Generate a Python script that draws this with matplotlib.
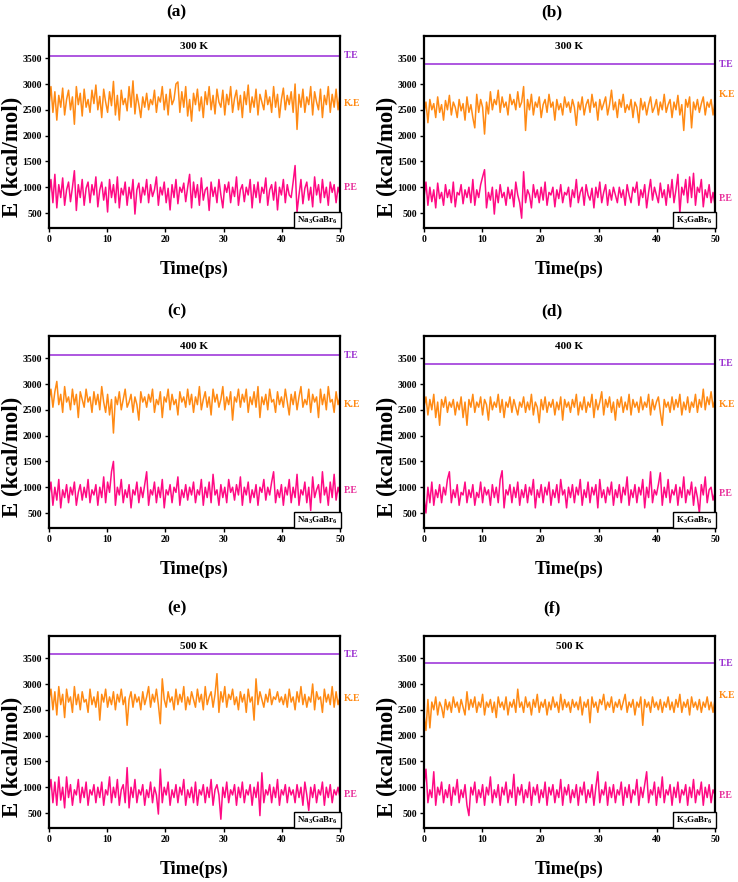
import numpy as np
import matplotlib
matplotlib.use("Agg")
import matplotlib.pyplot as plt

plt.rcParams['font.family'] = ['Liberation Serif', 'DejaVu Serif']
plt.rcParams['font.weight'] = 'bold'
plt.rcParams['mathtext.fontset'] = 'custom'
plt.rcParams['mathtext.rm'] = 'Liberation Serif:bold'
plt.rcParams['mathtext.bf'] = 'Liberation Serif:bold'

# ---------------- data ----------------
panel_letters = ['(a)', '(b)', '(c)', '(d)', '(e)', '(f)']
temperatures = ['300 K', '300 K', '400 K', '400 K', '500 K', '500 K']
compounds = [r'$\mathbf{Na_3GaBr_6}$', r'$\mathbf{K_3GaBr_6}$'] * 3
total_energy = [3550, 3385, 3560, 3390, 3575, 3400]
ke_label_y = [2630, 2800, 2600, 2600, 2720, 2780]
pe_label_y = [990, 780, 940, 880, 865, 830]

ke_a = [2600, 2950, 2450, 2850, 2300, 2780, 2550, 2920, 2400, 2700, 2880, 2500, 2750, 2220, 2950, 2600, 2820, 2380, 2900, 2550, 2700, 2450, 2880, 2620, 2980,
        2500, 2760, 2350, 2900, 2650, 2450, 2850, 2580, 3050, 2400, 2780, 2300, 2880, 2600, 2720, 2480, 2950, 2550, 3060, 2420, 2800, 2600, 2350, 2750, 2550,
        2820, 2500, 2700, 2600, 2880, 2450, 2750, 2650, 2950, 2500, 2800, 2400, 2900, 2600, 2700, 3000, 3040, 2450, 2850, 2550, 2950, 2380, 2700, 2280, 2820,
        2600, 2900, 2480, 2750, 2350, 2850, 2600, 2950, 2500, 2780, 2420, 2900, 2650, 2550, 2880, 2400, 2800, 2600, 2950, 2450, 2720, 2880, 2500, 2780, 2350,
        2850, 2600, 2980, 2450, 2750, 2550, 2900, 2400, 2800, 2650, 2500, 2880, 2600, 2750, 2450, 2950, 2550, 2800, 2350, 2700, 2920, 2500, 2780, 2600, 2850,
        2450, 3000, 2120, 2800, 2550, 2900, 2450, 2750, 2600, 2950, 2400, 2850, 2650, 2500, 2900, 2350, 2780, 2600, 2950, 2450, 2800, 2550, 2900, 2500, 2800]
pe_a = [850, 1150, 700, 1250, 600, 1050, 800, 1180, 650, 950, 1100, 720, 1000, 1320, 550, 1050, 800, 1150, 650, 980, 1100, 700, 1050, 850, 1200,
        620, 950, 1100, 750, 1000, 520, 1150, 800, 1050, 700, 1200, 600, 980, 850, 1100, 650, 1000, 780, 1150, 480, 950, 1080, 700, 1000, 850,
        1150, 700, 1050, 820, 950, 1200, 650, 1000, 850, 1100, 700, 980, 560, 1050, 800, 1150, 680, 1000, 900, 1080, 720, 1000, 1250, 600, 1100,
        800, 1050, 650, 1180, 750, 950, 1000, 550, 1100, 820, 1000, 700, 1150, 850, 600, 1050, 900, 1100, 700, 1000, 820, 1200, 650, 950, 1050,
        720, 1000, 850, 1150, 600, 1050, 800, 1100, 700, 1000, 880, 1180, 650, 950, 1050, 750, 1100, 560, 1000, 850, 1150, 700, 1050, 850, 800,
        1100, 1420, 520, 850, 1150, 680, 980, 1100, 750, 1000, 620, 1200, 850, 1050, 700, 1150, 800, 1000, 650, 1100, 900, 1050, 700, 1000, 850]

ke_b = [2450, 2650, 2250, 2700, 2500, 2620, 2350, 2750, 2450, 2600, 2300, 2680, 2500, 2780, 2400, 2650, 2550, 2350, 2700, 2480, 2620, 2300, 2750, 2450, 2600,
        2350, 2150, 2800, 2450, 2700, 2550, 2030, 2650, 2420, 2850, 2500, 2700, 2600, 2880, 2450, 2750, 2550, 2650, 2400, 2800, 2600, 2700, 2500, 2850, 2550,
        2650, 2950, 2100, 2700, 2500, 2800, 2400, 2650, 2550, 2750, 2350, 2600, 2700, 2450, 2800, 2550, 2650, 2300, 2700, 2500, 2620, 2400, 2750, 2550, 2650,
        2450, 2700, 2550, 2200, 2650, 2500, 2750, 2400, 2600, 2700, 2450, 2800, 2550, 2650, 2300, 2700, 2500, 2620, 2750, 2400, 2600, 2880, 2500, 2650, 2350,
        2700, 2550, 2800, 2450, 2600, 2500, 2700, 2350, 2650, 2550, 2250, 2720, 2500, 2650, 2400, 2600, 2750, 2450, 2550, 2700, 2400, 2650, 2500, 2800, 2450,
        2600, 2700, 2350, 2650, 2500, 2780, 2400, 2600, 2100, 2700, 2550, 2750, 2150, 2650, 2500, 2700, 2450, 2620, 2750, 2400, 2650, 2550, 2700, 2400, 2650]
pe_b = [800, 1100, 650, 1000, 720, 950, 600, 1080, 780, 900, 650, 1050, 800, 950, 700, 1100, 620, 900, 850, 1050, 680, 950, 800, 1000, 700,
        1150, 650, 950, 800, 1050, 1200, 1340, 600, 900, 750, 1000, 480, 950, 700, 1050, 800, 900, 650, 1000, 780, 950, 620, 1100, 850, 700,
        400, 1300, 700, 950, 850, 600, 1050, 800, 950, 700, 1000, 750, 1100, 650, 900, 850, 1000, 620, 950, 780, 1050, 700, 900, 850, 1000,
        620, 950, 800, 1150, 700, 900, 1000, 650, 1050, 850, 750, 980, 600, 1000, 800, 1100, 700, 900, 1050, 650, 950, 750, 1000, 850, 700,
        1000, 800, 950, 650, 1050, 850, 700, 1000, 900, 1100, 650, 950, 800, 1050, 600, 900, 1150, 750, 1000, 850, 700, 1080, 800, 950, 650,
        1050, 800, 1150, 700, 950, 1250, 500, 1000, 850, 1150, 700, 1200, 800, 1270, 650, 1000, 900, 1150, 620, 950, 800, 1050, 700, 900, 650]

ke_c = [2700, 2900, 2550, 2850, 3050, 2600, 2800, 2450, 2950, 2650, 2750, 2500, 2900, 2600, 2800, 2350, 2850, 2700, 2550, 2900, 2650, 2750, 2450, 2850, 2600,
        2800, 2500, 2950, 2650, 2450, 2800, 2400, 2700, 2050, 2750, 2600, 2850, 2500, 2700, 2900, 2550, 2650, 2800, 2450, 2750, 2600, 2300, 2850, 2650, 2750,
        2550, 2800, 2650, 2900, 2450, 2700, 2600, 2850, 2350, 2750, 2650, 2900, 2500, 2800, 2600, 2700, 2400, 2850, 2650, 2750, 2550, 2900, 2600, 2800, 2450,
        2750, 2600, 2950, 2500, 2700, 2850, 2550, 2750, 2400, 2900, 2650, 2800, 2550, 2700, 2950, 2500, 2750, 2600, 2850, 2300, 2750, 2650, 2900, 2550, 2800,
        2650, 2900, 2450, 2750, 2600, 2850, 2550, 2950, 2350, 2750, 2600, 2800, 2500, 2900, 2650, 2700, 2450, 2850, 2600, 2750, 2550, 2900, 2650, 2400, 2800,
        2600, 2850, 2500, 2750, 2950, 2550, 2700, 2600, 2900, 2450, 2800, 2650, 2750, 2350, 2900, 2600, 2800, 2500, 2950, 2650, 2700, 2450, 2850, 2600, 2750]
pe_c = [850, 1100, 650, 1000, 750, 1150, 600, 950, 800, 1050, 700, 1000, 850, 1100, 650, 900, 1050, 750, 1000, 800, 1150, 700, 950, 850, 1050,
        650, 1000, 800, 1200, 700, 1100, 900, 1300, 1500, 650, 1000, 850, 1150, 700, 950, 800, 1050, 600, 950, 850, 1100, 700, 1000, 800, 1050,
        1300, 650, 950, 850, 1100, 700, 1000, 800, 1150, 600, 950, 850, 1050, 700, 1000, 900, 1200, 650, 950, 800, 1050, 750, 1000, 850, 1100,
        700, 950, 850, 1150, 650, 1000, 800, 1100, 700, 1250, 850, 950, 650, 1050, 800, 1000, 700, 1150, 900, 1000, 750, 1050, 850, 1200, 650,
        1000, 850, 1100, 700, 950, 800, 1050, 650, 1000, 900, 1150, 750, 1000, 850, 1100, 1300, 700, 950, 800, 1050, 650, 1000, 850, 1150, 700,
        1000, 800, 1250, 650, 950, 850, 1100, 700, 1000, 550, 1200, 800, 950, 1050, 700, 1300, 850, 1000, 650, 1100, 800, 1250, 750, 1000, 850]

ke_d = [2550, 2750, 2400, 2700, 2500, 2800, 2350, 2650, 2200, 2700, 2550, 2750, 2450, 2650, 2550, 2700, 2400, 2650, 2500, 2750, 2350, 2650, 2200, 2700, 2550,
        2800, 2450, 2650, 2550, 2750, 2400, 2700, 2600, 2300, 2750, 2500, 2650, 2550, 2800, 2450, 2700, 2350, 2650, 2550, 2750, 2450, 2700, 2550, 2400, 2650,
        2550, 2750, 2450, 2650, 2500, 2800, 2400, 2650, 2550, 2250, 2700, 2500, 2750, 2450, 2650, 2550, 2700, 2400, 2650, 2500, 2750, 2300, 2700, 2550, 2650,
        2450, 2700, 2550, 2800, 2400, 2650, 2500, 2750, 2450, 2650, 2550, 2800, 2350, 2700, 2500, 2650, 2850, 2400, 2700, 2550, 2750, 2450, 2650, 2300, 2700,
        2550, 2750, 2450, 2650, 2500, 2800, 2400, 2700, 2550, 2650, 2450, 2750, 2500, 2650, 2550, 2800, 2400, 2700, 2500, 2650, 2750, 2450, 2200, 2700, 2550,
        2650, 2450, 2750, 2500, 2700, 2550, 2800, 2400, 2650, 2500, 2750, 2450, 2650, 2550, 2800, 2450, 2700, 2550, 2900, 2500, 2750, 2600, 2850, 2550, 2700]
pe_d = [800, 500, 1000, 700, 1100, 650, 950, 800, 1050, 700, 1000, 850, 1150, 1300, 700, 950, 800, 1050, 650, 900, 850, 1100, 700, 950, 800,
        1050, 650, 900, 800, 1100, 700, 1000, 850, 950, 650, 1050, 800, 1000, 700, 1150, 1320, 600, 950, 850, 1050, 700, 1000, 800, 1100, 650,
        950, 800, 1050, 700, 1000, 850, 1150, 600, 950, 800, 1050, 700, 1000, 850, 1100, 650, 950, 800, 1050, 700, 1150, 850, 950, 600, 1000,
        800, 1050, 700, 1000, 850, 1150, 650, 950, 800, 1100, 700, 1000, 850, 1050, 600, 1150, 800, 950, 700, 1000, 850, 1100, 650, 950, 800,
        1050, 700, 1000, 850, 1200, 650, 950, 800, 1050, 700, 1000, 850, 1150, 600, 1000, 800, 1300, 700, 950, 850, 1050, 1280, 650, 1000, 800,
        1150, 700, 950, 850, 1050, 650, 1000, 800, 1200, 700, 950, 850, 1100, 650, 1000, 800, 500, 1050, 850, 1200, 700, 950, 1000, 750, 900]

ke_e = [2700, 2900, 2500, 2850, 2400, 2950, 2600, 2800, 2350, 2900, 2650, 2750, 2450, 2950, 2600, 2800, 2500, 2850, 2650, 2700, 2450, 2900, 2600, 2750, 2550,
        2850, 2300, 2800, 2650, 2900, 2550, 2750, 2600, 2850, 2500, 2800, 2650, 2900, 2600, 2750, 2200, 2700, 2850, 2550, 2800, 2650, 2750, 2500, 2850, 2600,
        2750, 2950, 2550, 2800, 2650, 2900, 2600, 2230, 3100, 2700, 2550, 2850, 2650, 2750, 2500, 2900, 2600, 2800, 2650, 2950, 2500, 2750, 2600, 2850, 2700,
        2550, 2900, 2650, 2800, 2500, 2950, 2600, 2750, 2850, 2550, 2800, 3200, 2450, 2850, 2650, 2950, 2550, 2800, 2700, 2900, 2600, 2750, 2500, 2850, 2650,
        2800, 2450, 2900, 2650, 2750, 2300, 3100, 2600, 2850, 2700, 2550, 2800, 2650, 2900, 2600, 2750, 2700, 2850, 2650, 2750, 2600, 2800, 2550, 2900, 2650,
        2750, 2500, 2850, 2650, 2950, 2600, 2800, 2550, 2750, 2650, 3000, 2500, 2850, 2700, 2750, 2450, 2900, 2650, 2800, 2600, 2950, 2550, 2850, 2600, 2750]
pe_e = [900, 1150, 700, 1100, 650, 1200, 750, 1000, 600, 1200, 800, 1050, 650, 950, 850, 1150, 700, 1000, 800, 1100, 650, 950, 850, 1050, 700,
        1000, 800, 1100, 650, 950, 850, 1200, 700, 1000, 800, 1150, 650, 950, 1050, 700, 1380, 600, 1000, 800, 1150, 700, 950, 850, 1050, 650,
        950, 800, 1100, 700, 1000, 850, 480, 1350, 700, 1000, 850, 1100, 650, 950, 800, 1050, 700, 1000, 850, 1150, 650, 950, 800, 1000, 700,
        1100, 650, 950, 850, 1050, 700, 1000, 800, 1150, 650, 950, 1050, 850, 380, 1000, 800, 1100, 700, 950, 850, 1050, 650, 1000, 800, 1100,
        700, 950, 850, 1050, 650, 1000, 800, 1100, 450, 1280, 700, 950, 850, 1050, 700, 1000, 800, 1150, 650, 950, 850, 1050, 700, 1000, 850,
        950, 700, 1050, 800, 1000, 650, 1100, 850, 550, 1000, 800, 1050, 700, 950, 850, 1100, 650, 1000, 800, 1050, 700, 950, 850, 1000, 800]

ke_f = [2400, 2100, 2700, 2150, 2650, 2500, 2750, 2400, 2650, 2550, 2350, 2700, 2500, 2650, 2450, 2750, 2550, 2650, 2450, 2700, 2550, 2400, 2850, 2500, 2700,
        2550, 2750, 2450, 2650, 2550, 2800, 2400, 2650, 2550, 2700, 2450, 2650, 2350, 2750, 2550, 2650, 2500, 2750, 2400, 2650, 2550, 2700, 2450, 2900, 2550,
        2650, 2450, 2750, 2550, 2650, 2400, 2700, 2550, 2800, 2450, 2650, 2550, 2700, 2400, 2650, 2500, 2750, 2550, 2650, 2450, 2800, 2500, 2700, 2550, 2650,
        2450, 2700, 2550, 2650, 2500, 2750, 2400, 2650, 2550, 2700, 2250, 2750, 2550, 2650, 2450, 2700, 2600, 2800, 2500, 2650, 2550, 2750, 2450, 2650, 2550,
        2700, 2500, 2650, 2800, 2450, 2650, 2550, 2700, 2400, 2650, 2550, 2750, 2200, 2700, 2550, 2650, 2450, 2750, 2550, 2650, 2500, 2700, 2450, 2650, 2550,
        2750, 2500, 2650, 2450, 2700, 2550, 2800, 2450, 2650, 2550, 2700, 2400, 2750, 2550, 2650, 2500, 2700, 2450, 2650, 2550, 2750, 2500, 2650, 2450, 2700]
pe_f = [1050, 1350, 700, 950, 800, 1300, 650, 1000, 850, 1100, 700, 950, 800, 1050, 650, 1000, 850, 1150, 700, 950, 800, 1050, 650, 450, 1000,
        850, 1100, 700, 950, 800, 1050, 650, 1000, 850, 1200, 700, 950, 800, 1050, 650, 1000, 850, 1100, 700, 950, 800, 1250, 650, 1000, 850,
        1050, 700, 950, 800, 1100, 650, 1000, 850, 1050, 700, 950, 800, 1100, 650, 1000, 850, 1050, 700, 950, 800, 1150, 650, 1000, 850, 1050,
        700, 950, 800, 1050, 650, 1000, 850, 1100, 700, 950, 800, 1050, 650, 1000, 1300, 700, 950, 850, 1100, 650, 1000, 800, 1050, 700, 950,
        850, 1100, 650, 1000, 800, 1050, 700, 950, 850, 1150, 650, 1000, 800, 1050, 1300, 700, 950, 850, 1100, 650, 1000, 800, 1200, 700, 950,
        850, 1050, 650, 1000, 800, 1100, 700, 950, 850, 1050, 650, 1000, 800, 1150, 700, 950, 850, 1100, 650, 1000, 800, 1050, 700, 950, 850]

kinetic = [ke_a, ke_b, ke_c, ke_d, ke_e, ke_f]
potential = [pe_a, pe_b, pe_c, pe_d, pe_e, pe_f]
yticks = [500, 1000, 1500, 2000, 2500, 3000, 3500]
xticks = [0, 10, 20, 30, 40, 50]

# ---------------- style ----------------
c_ke = '#FF8A14'
c_pe = '#FF0A84'
c_te = '#A03ADA'
c_te_txt = '#9B30D0'
c_pe_txt = '#E8309A'

W, H = 738, 882
fig = plt.figure(figsize=(W / 100, H / 100), dpi=100)

col_left = [49, 424]
col_w = 291
row_top = [36, 336, 636]
row_h = 192
label_y = [12, 311, 608]
label_dx = -18

for i in range(6):
    r, c = divmod(i, 2)
    x0 = col_left[c]
    y0 = row_top[r]
    ax = fig.add_axes([x0 / W, 1 - (y0 + row_h) / H, col_w / W, row_h / H])
    t = np.linspace(0, 50, len(kinetic[i]))
    ax.plot(t, kinetic[i], color=c_ke, lw=1.1)
    ax.plot(t, potential[i], color=c_pe, lw=1.1)
    ax.plot(t, np.full(len(t), total_energy[i]), color=c_te, lw=1.2)
    ax.set_xlim(0, 50)
    ax.set_ylim(210, 3930)
    ax.set_xticks(xticks)
    ax.set_yticks(yticks)
    ax.tick_params(direction='out', length=3, width=1, labelsize=7, pad=2)
    for lab in ax.get_xticklabels() + ax.get_yticklabels():
        lab.set_fontweight('bold')
    for s in ax.spines.values():
        s.set_linewidth(1.6)
    ax.set_xlabel('Time(ps)', fontsize=13, fontweight='bold')
    ax.xaxis.set_label_coords(0.5, -0.17)
    ax.set_ylabel('E (kcal/mol)', fontsize=16.5, fontweight='bold')
    ax.yaxis.set_label_coords(-0.09, 0.37)
    ax.text(0.5, 0.943, temperatures[i], transform=ax.transAxes, ha='center', va='center',
            fontsize=8, fontweight='bold')
    ax.text(1.012, total_energy[i], 'T.E', transform=ax.get_yaxis_transform(), ha='left',
            va='center', fontsize=7, fontweight='bold', color=c_te_txt)
    ax.text(1.012, ke_label_y[i], 'K.E', transform=ax.get_yaxis_transform(), ha='left',
            va='center', fontsize=7, fontweight='bold', color=c_ke)
    ax.text(1.012, pe_label_y[i], 'P.E', transform=ax.get_yaxis_transform(), ha='left',
            va='center', fontsize=7, fontweight='bold', color=c_pe_txt)
    ax.text(0.993, 0.012, compounds[i], transform=ax.transAxes, ha='right', va='bottom',
            fontsize=6.5, bbox=dict(boxstyle='square,pad=0.3', fc='white', ec='black', lw=1))
    fig.text((x0 + col_w / 2 + label_dx) / W, 1 - label_y[r] / H, panel_letters[i],
             ha='center', va='center', fontsize=12.5, fontweight='bold')

fig.savefig('out.png', dpi=100)
